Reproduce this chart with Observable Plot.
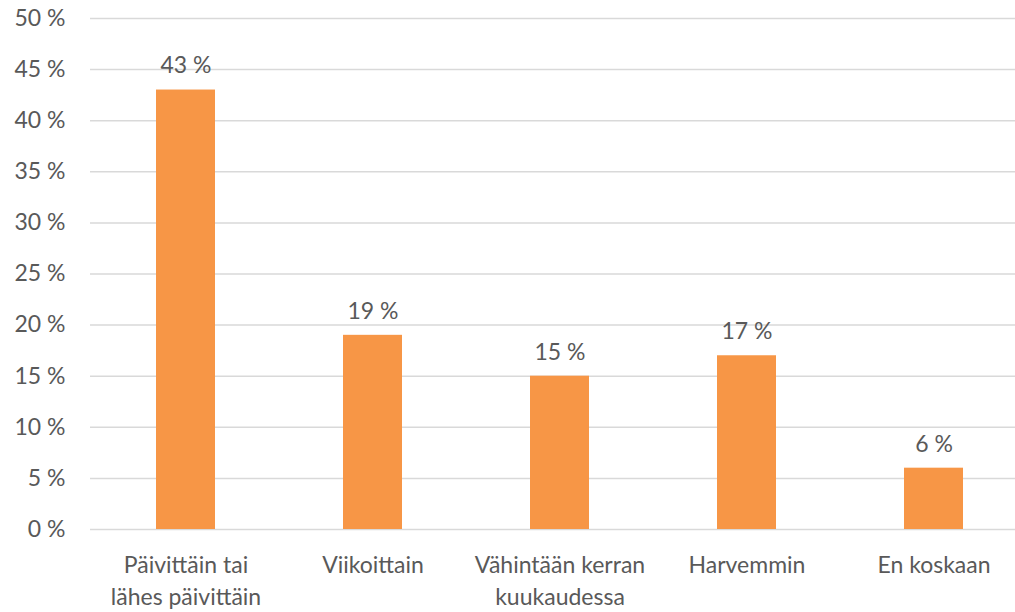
<!DOCTYPE html>
<html>
<head>
<meta charset="utf-8">
<script src="https://cdn.jsdelivr.net/npm/d3@7"></script>
<script src="https://cdn.jsdelivr.net/npm/@observablehq/plot@0.6"></script>
<style>
  html, body { margin: 0; padding: 0; background: #fff; }
  #chart { width: 1015px; height: 612px; overflow: hidden; }
</style>
</head>
<body>
<div id="chart"></div>
<script>
const categories = ["Päivittäin tai\nlähes päivittäin", "Viikoittain", "Vähintään kerran\nkuukaudessa", "Harvemmin", "En koskaan"];
const values = [43, 19, 15, 17, 6];
const yTicks = [0, 5, 10, 15, 20, 25, 30, 35, 40, 45, 50];

const data = categories.map((c, i) => ({category: c, value: values[i]}));

const textColor = "#595959";
const fontFamily = "Lato, 'Open Sans', sans-serif";
const fs = 23;

const chart = Plot.plot({
  width: 1015,
  height: 612,
  marginTop: 18,
  marginBottom: 83,
  marginLeft: 90,
  marginRight: 0,
  style: {fontFamily, fontSize: fs + "px", color: textColor, background: "#fff"},
  x: {domain: categories, range: [89.5, 1029], paddingInner: 0.686, paddingOuter: 0.343, label: null},
  y: {domain: [0, 50], label: null},
  marks: [
    Plot.ruleY(yTicks, {stroke: "#D9D9D9", strokeWidth: 1.5}),
    Plot.barY(data, {x: "category", y: "value", fill: "#F79646"}),
    Plot.text(data, {x: "category", y: "value", text: d => d.value + " %", dy: -24, fill: textColor, fontSize: fs}),
    Plot.axisY(yTicks, {tickSize: 0, tickPadding: 25, tickFormat: d => d + " %", fill: textColor, fontSize: fs, label: null}),
    Plot.axisX({tickSize: 0, tickPadding: 21, lineHeight: 1.38, fill: textColor, fontSize: fs, label: null})
  ]
});
document.getElementById("chart").appendChild(chart);
</script>
</body>
</html>
